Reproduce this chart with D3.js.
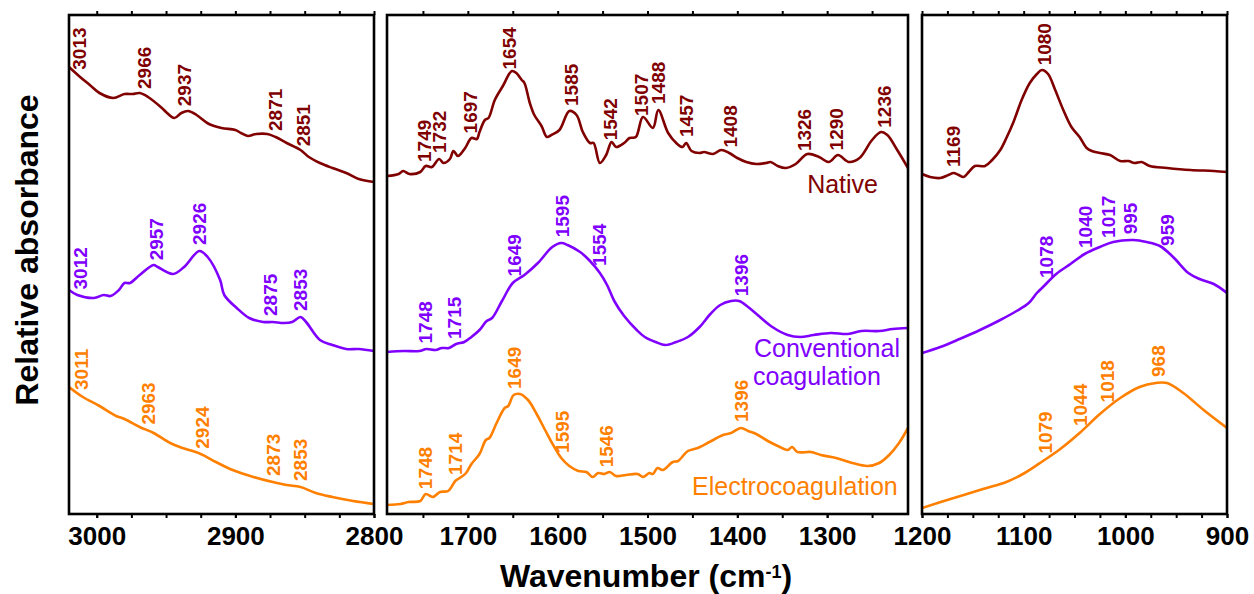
<!doctype html>
<html>
<head>
<meta charset="utf-8">
<script src="https://cdnjs.cloudflare.com/ajax/libs/d3/7.8.5/d3.min.js"></script>
<style>
body { margin: 0; background: #fff; }
svg { display: block; font-family: "Liberation Sans", Arial, sans-serif; }
</style>
</head>
<body>
<svg width="1254" height="594"></svg>
<script>
// wavenumber window of each panel (cm-1), left to right
var range1 = [3020, 2800], range2 = [1790, 1210], range3 = [1200, 900];
var major1 = [3000, 2900, 2800];
var major2 = [1700, 1600, 1500, 1400, 1300];
var major3 = [1200, 1100, 1000, 900];
var minor1 = [3000, 2975, 2950, 2925, 2900, 2875, 2850, 2825, 2800];
var minor2 = [1750, 1700, 1650, 1600, 1550, 1500, 1450, 1400, 1350, 1300, 1250];
var minor3 = [1200, 1175, 1150, 1125, 1100, 1075, 1050, 1025, 1000, 975, 950, 925, 900];

// spectra: [wavenumber, relative absorbance (offset, a.u.)]
var native1 = [[3020,4.47],[3012,4.37],[3005,4.29],[2998,4.21],[2988,4.16],[2980,4.20],[2974,4.20],[2969,4.21],
  [2963,4.17],[2953,4.06],[2950,4.02],[2944,3.96],[2939,4.01],[2934,4.03],[2928,3.99],[2919,3.90],[2910,3.86],
  [2900,3.84],[2896,3.81],[2891,3.78],[2885,3.80],[2877,3.80],[2871,3.77],[2863,3.71],[2853,3.64],[2847,3.57],
  [2839,3.51],[2830,3.46],[2820,3.41],[2811,3.35],[2800,3.32]];
var conv1 = [[3020,2.24],[3014,2.19],[3002,2.16],[2995,2.19],[2990,2.18],[2984,2.24],[2980,2.31],[2976,2.31],
  [2969,2.39],[2959,2.49],[2956,2.47],[2945,2.40],[2937,2.47],[2926,2.63],[2920,2.57],[2911,2.34],[2908,2.19],
  [2899,2.06],[2890,1.96],[2880,1.92],[2873,1.92],[2865,1.91],[2859,1.92],[2853,1.97],[2849,1.92],[2839,1.74],
  [2830,1.69],[2820,1.65],[2811,1.65],[2800,1.63]];
var electro1 = [[3020,1.27],[3010,1.17],[2998,1.08],[2986,0.98],[2980,0.95],[2969,0.87],[2959,0.81],[2947,0.71],
  [2938,0.66],[2925,0.60],[2914,0.52],[2902,0.44],[2887,0.37],[2873,0.32],[2863,0.29],[2853,0.27],[2842,0.21],
  [2830,0.17],[2815,0.13],[2800,0.10]];

var native2 = [[1790,3.38],[1777,3.40],[1772,3.43],[1765,3.40],[1753,3.42],[1747,3.48],[1740,3.47],[1732,3.55],
  [1727,3.51],[1720,3.55],[1716,3.63],[1711,3.58],[1703,3.66],[1696,3.76],[1690,3.75],[1687,3.82],[1681,3.94],
  [1677,3.96],[1670,4.14],[1661,4.28],[1651,4.43],[1646,4.41],[1640,4.34],[1637,4.31],[1631,4.11],[1626,3.99],
  [1618,3.88],[1612,3.77],[1607,3.79],[1598,3.84],[1587,4.03],[1579,3.99],[1572,3.82],[1564,3.71],[1560,3.71],
  [1553,3.51],[1546,3.59],[1540,3.72],[1535,3.67],[1526,3.71],[1520,3.76],[1513,3.77],[1505,3.97],[1494,3.86],
  [1488,4.04],[1477,3.81],[1468,3.71],[1461,3.67],[1457,3.71],[1451,3.63],[1442,3.61],[1437,3.62],[1427,3.60],
  [1418,3.64],[1409,3.61],[1400,3.56],[1390,3.52],[1379,3.50],[1368,3.51],[1363,3.52],[1355,3.48],[1346,3.46],
  [1335,3.50],[1322,3.60],[1309,3.57],[1298,3.52],[1288,3.59],[1276,3.52],[1264,3.56],[1250,3.74],[1240,3.82],
  [1233,3.79],[1222,3.64],[1210,3.46]];
var conv2 = [[1790,1.62],[1771,1.63],[1754,1.63],[1746,1.65],[1736,1.64],[1729,1.66],[1721,1.66],[1713,1.70],
  [1704,1.72],[1696,1.77],[1687,1.84],[1679,1.93],[1673,1.96],[1662,2.13],[1650,2.31],[1637,2.39],[1622,2.51],
  [1606,2.67],[1596,2.71],[1589,2.69],[1575,2.62],[1564,2.53],[1553,2.41],[1545,2.29],[1537,2.13],[1526,1.98],
  [1512,1.84],[1503,1.77],[1491,1.72],[1480,1.69],[1468,1.72],[1455,1.77],[1442,1.87],[1430,2.00],[1419,2.09],
  [1407,2.13],[1398,2.13],[1388,2.07],[1376,1.98],[1361,1.87],[1344,1.79],[1330,1.77],[1315,1.79],[1296,1.81],
  [1277,1.80],[1262,1.83],[1242,1.83],[1227,1.85],[1210,1.86]];
var electro2 = [[1790,0.09],[1775,0.10],[1766,0.12],[1753,0.13],[1747,0.20],[1739,0.17],[1731,0.22],[1722,0.23],
  [1714,0.33],[1709,0.36],[1702,0.41],[1696,0.50],[1687,0.60],[1680,0.74],[1676,0.76],[1668,0.91],[1659,1.06],
  [1655,1.08],[1649,1.19],[1642,1.20],[1633,1.14],[1624,1.01],[1614,0.84],[1605,0.69],[1596,0.56],[1587,0.48],
  [1577,0.43],[1568,0.42],[1561,0.37],[1555,0.41],[1548,0.40],[1542,0.42],[1535,0.38],[1524,0.39],[1511,0.40],
  [1505,0.37],[1498,0.41],[1494,0.40],[1489,0.46],[1483,0.44],[1472,0.52],[1466,0.53],[1455,0.63],[1444,0.66],
  [1431,0.72],[1416,0.79],[1407,0.81],[1396,0.86],[1388,0.83],[1379,0.80],[1366,0.73],[1355,0.68],[1344,0.64],
  [1339,0.67],[1333,0.62],[1318,0.62],[1307,0.59],[1290,0.56],[1272,0.51],[1255,0.48],[1242,0.51],[1231,0.59],
  [1220,0.71],[1210,0.86]];

var native3 = [[1200,3.40],[1192,3.37],[1182,3.36],[1174,3.39],[1169,3.41],[1164,3.39],[1159,3.37],[1154,3.42],
  [1148,3.48],[1138,3.48],[1131,3.54],[1123,3.64],[1117,3.76],[1110,3.92],[1102,4.14],[1094,4.31],[1087,4.40],
  [1082,4.44],[1076,4.40],[1069,4.24],[1061,4.04],[1053,3.87],[1045,3.77],[1038,3.66],[1033,3.63],[1025,3.61],
  [1015,3.59],[1005,3.53],[997,3.53],[991,3.51],[984,3.52],[976,3.48],[959,3.46],[936,3.44],[913,3.43],[900,3.42]];
var conv3 = [[1200,1.61],[1182,1.67],[1163,1.75],[1143,1.84],[1123,1.94],[1107,2.03],[1095,2.11],[1087,2.21],
  [1081,2.27],[1068,2.40],[1054,2.50],[1040,2.60],[1025,2.67],[1012,2.72],[992,2.74],[979,2.72],[966,2.68],
  [953,2.57],[938,2.41],[927,2.35],[913,2.30],[900,2.21]];
var electro3 = [[1200,0.06],[1172,0.15],[1140,0.25],[1117,0.32],[1099,0.41],[1081,0.53],[1064,0.65],[1045,0.81],
  [1025,1.00],[1005,1.16],[986,1.27],[970,1.31],[959,1.31],[943,1.21],[923,1.04],[900,0.86]];

// labelled band positions
var nativePeaks1 = [3013, 2966, 2937, 2871, 2851];
var convPeaks1 = [3012, 2957, 2926, 2875, 2853];
var electroPeaks1 = [3011, 2963, 2924, 2873, 2853];
var nativePeaks2 = [1749, 1732, 1697, 1654, 1585, 1542, 1507, 1488, 1457, 1408, 1326, 1290, 1236];
var convPeaks2 = [1748, 1715, 1649, 1595, 1554, 1396];
var electroPeaks2 = [1748, 1714, 1649, 1595, 1546, 1396];
var nativePeaks3 = [1169, 1080];
var convPeaks3 = [1078, 1040, 1017, 995, 959];
var electroPeaks3 = [1079, 1044, 1018, 968];

var colors = { native: "#800000", conv: "#8000ff", electro: "#ff8000" };

var svg = d3.select("svg");
var plotTop = 15, plotBottom = 514;
var y = d3.scaleLinear().domain([0, 5]).range([514, 14]);

var panels = [
  { x0: 69, x1: 374, domain: range1, major: major1, minor: minor1,
    series: [[native1, nativePeaks1, colors.native], [conv1, convPeaks1, colors.conv], [electro1, electroPeaks1, colors.electro]] },
  { x0: 387, x1: 908, domain: range2, major: major2, minor: minor2,
    series: [[native2, nativePeaks2, colors.native], [conv2, convPeaks2, colors.conv], [electro2, electroPeaks2, colors.electro]] },
  { x0: 922, x1: 1227, domain: range3, major: major3, minor: minor3,
    series: [[native3, nativePeaks3, colors.native], [conv3, convPeaks3, colors.conv], [electro3, electroPeaks3, colors.electro]] }
];

// linear read-out of a spectrum at a given wavenumber (for label placement)
function valueAt(data, w) {
  for (var i = 0; i < data.length - 1; i++) {
    var a = data[i], b = data[i + 1];
    if ((w <= a[0] && w >= b[0])) {
      var t = (a[0] - w) / (a[0] - b[0]);
      return a[1] + t * (b[1] - a[1]);
    }
  }
  return data[data.length - 1][1];
}

panels.forEach(function(p, k) {
  var x = d3.scaleLinear().domain(p.domain).range([p.x0, p.x1]);
  var g = svg.append("g");

  g.append("clipPath").attr("id", "clip" + k)
    .append("rect").attr("x", p.x0).attr("y", plotTop).attr("width", p.x1 - p.x0).attr("height", plotBottom - plotTop);

  var line = d3.line()
    .x(function(d) { return x(d[0]); })
    .y(function(d) { return y(d[1]); })
    .curve(d3.curveCatmullRom.alpha(0.5));

  p.series.forEach(function(s) {
    g.append("path")
      .datum(s[0])
      .attr("clip-path", "url(#clip" + k + ")")
      .attr("fill", "none")
      .attr("stroke", s[2])
      .attr("stroke-width", 2.6)
      .attr("stroke-linejoin", "round")
      .attr("d", line);

    g.selectAll(null)
      .data(s[1])
      .enter()
      .append("text")
      .attr("transform", function(w) { return "translate(" + x(w) + "," + (y(valueAt(s[0], w)) - 6) + ") rotate(-90)"; })
      .attr("dy", "0.36em")
      .attr("fill", s[2])
      .style("font-size", "19px")
      .style("font-weight", "bold")
      .text(function(w) { return w; });
  });

  // frame
  g.append("rect")
    .attr("x", p.x0).attr("y", plotTop)
    .attr("width", p.x1 - p.x0).attr("height", plotBottom - plotTop)
    .attr("fill", "none").attr("stroke", "#000").attr("stroke-width", 2.6);

  // ticks, outward on top and bottom
  var top = g.append("g").attr("transform", "translate(0," + plotTop + ")")
    .call(d3.axisTop(x).tickValues(p.minor).tickSize(4).tickFormat(""));
  var bot = g.append("g").attr("transform", "translate(0," + plotBottom + ")")
    .call(d3.axisBottom(x).tickValues(p.minor).tickSize(4).tickFormat(""));
  var lab = g.append("g").attr("transform", "translate(0," + plotBottom + ")")
    .call(d3.axisBottom(x).tickValues(p.major).tickSize(4).tickPadding(9).tickFormat(d3.format("d")));
  [top, bot, lab].forEach(function(a) {
    a.select(".domain").remove();
    a.selectAll(".tick line").attr("stroke", "#000").attr("stroke-width", 2);
  });
  lab.selectAll(".tick text")
    .attr("fill", "#000")
    .style("font-family", "'Liberation Sans', Arial, sans-serif")
    .style("font-size", "26px")
    .style("font-weight", "bold");
});

// sample names
var names = svg.append("g").style("font-size", "25px");
names.append("text").attr("x", 878).attr("y", 193).attr("text-anchor", "end").attr("fill", colors.native).text("Native");
names.append("text").attr("x", 754).attr("y", 357).attr("fill", colors.conv).text("Conventional");
names.append("text").attr("x", 753).attr("y", 385).attr("fill", colors.conv).text("coagulation");
names.append("text").attr("x", 692).attr("y", 495).attr("fill", colors.electro).text("Electrocoagulation");

// axis titles
svg.append("text")
  .attr("transform", "translate(38,250) rotate(-90)")
  .attr("text-anchor", "middle")
  .style("font-size", "32px").style("font-weight", "bold")
  .text("Relative absorbance");

var xt = svg.append("text")
  .attr("x", 646).attr("y", 587)
  .attr("text-anchor", "middle")
  .style("font-size", "32px").style("font-weight", "bold");
xt.append("tspan").text("Wavenumber (cm");
xt.append("tspan").attr("dy", -9).style("font-size", "18px").text("-1");
xt.append("tspan").attr("dy", 9).text(")");
</script>
</body>
</html>
